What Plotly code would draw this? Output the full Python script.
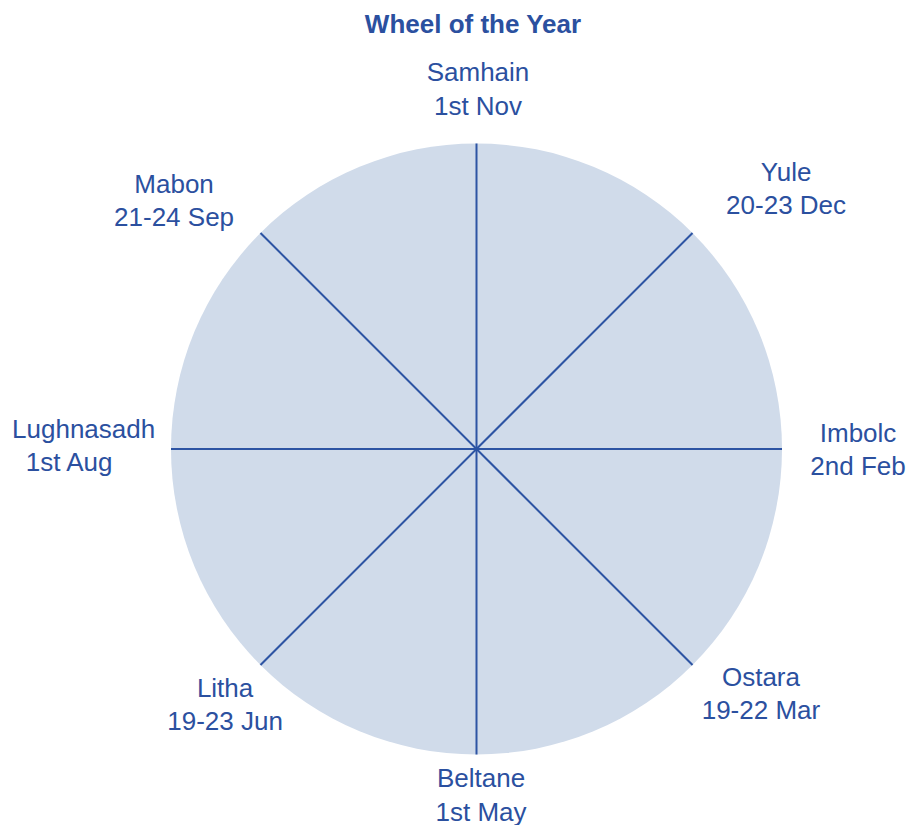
import math
import plotly.graph_objects as go

festivals = ["Samhain", "Yule", "Imbolc", "Ostara", "Beltane", "Litha", "Lughnasadh", "Mabon"]
dates = ["1st Nov", "20-23 Dec", "2nd Feb", "19-22 Mar", "1st May", "19-23 Jun", "1st Aug", "21-24 Sep"]
segment_size = [1, 1, 1, 1, 1, 1, 1, 1]

# ---- style: label placement relative to the wheel (radius in wheel units, angular nudge in degrees)
label_r = [1.169, 1.319, 1.249, 1.233, 1.142, 1.179, 1.286, 1.276]
label_nudge = [0.24, 5.2, 0.45, -4.04, -0.74, -0.73, 0.15, -5.88]
date_pad = [0, 0, 0, 0, 0, 0, 4, 0]

# ---- geometry (pixels)
W, H = 909, 825
CX, CY, R = 476.5, 449.0, 305.5

TEXT = "#2b509f"
LINE = "#2d54a3"
FILL = "#d0dbea"
FONT = "Liberation Sans, Arial, sans-serif"

n = len(festivals)
total = sum(segment_size)
spoke_angles = []
acc = 0.0
for s in segment_size:
    spoke_angles.append(acc * 360.0 / total)
    acc += s

labels = [f"{f}<br>{d}{'&nbsp;' * p}" for f, d, p in zip(festivals, dates, date_pad)]
lab_theta = [math.radians(a + nd) for a, nd in zip(spoke_angles, label_nudge)]
lab_x = [r * math.sin(t) for r, t in zip(label_r, lab_theta)]
lab_y = [r * math.cos(t) for r, t in zip(label_r, lab_theta)]

fig = go.Figure()

# invisible trace so the polar wheel (background + spokes) is rendered
fig.add_trace(go.Scatterpolar(
    r=[0] * n, theta=spoke_angles, mode="markers",
    marker=dict(size=0.1, color=LINE, opacity=0),
    hoverinfo="skip", showlegend=False,
))

# labels on a cartesian overlay whose unit equals the wheel radius
fig.add_trace(go.Scatter(
    x=lab_x, y=lab_y, mode="text", text=labels,
    textposition="middle center",
    textfont=dict(size=26, color=TEXT, family=FONT),
    cliponaxis=False, hoverinfo="skip", showlegend=False,
))

fig.update_layout(
    width=W, height=H,
    paper_bgcolor="white",
    plot_bgcolor="rgba(0,0,0,0)",
    margin=dict(l=0, r=0, t=0, b=0),
    font=dict(family=FONT, color=TEXT, size=26),
    title=dict(text="<b>Wheel of the Year</b>", x=473 / W, xanchor="center",
               y=1 - 24 / H, yanchor="middle", font=dict(size=26, color=TEXT)),
    xaxis=dict(visible=False, range=[-CX / R, (W - CX) / R], domain=[0, 1], fixedrange=True),
    yaxis=dict(visible=False, range=[-(H - CY) / R, CY / R], domain=[0, 1], fixedrange=True),
    polar=dict(
        domain=dict(x=[(CX - R) / W, (CX + R) / W], y=[(H - CY - R) / H, (H - CY + R) / H]),
        bgcolor=FILL,
        radialaxis=dict(visible=False, range=[0, 1]),
        angularaxis=dict(
            type="linear",
            thetaunit="degrees",
            direction="clockwise",
            rotation=90,
            tickmode="array",
            tickvals=spoke_angles,
            showticklabels=False,
            ticks="",
            showline=False,
            showgrid=True,
            gridcolor=LINE,
            gridwidth=2,
        ),
    ),
)

fig.write_html("out.html", config={"displayModeBar": False},
               post_script="document.body.style.margin='0';")
